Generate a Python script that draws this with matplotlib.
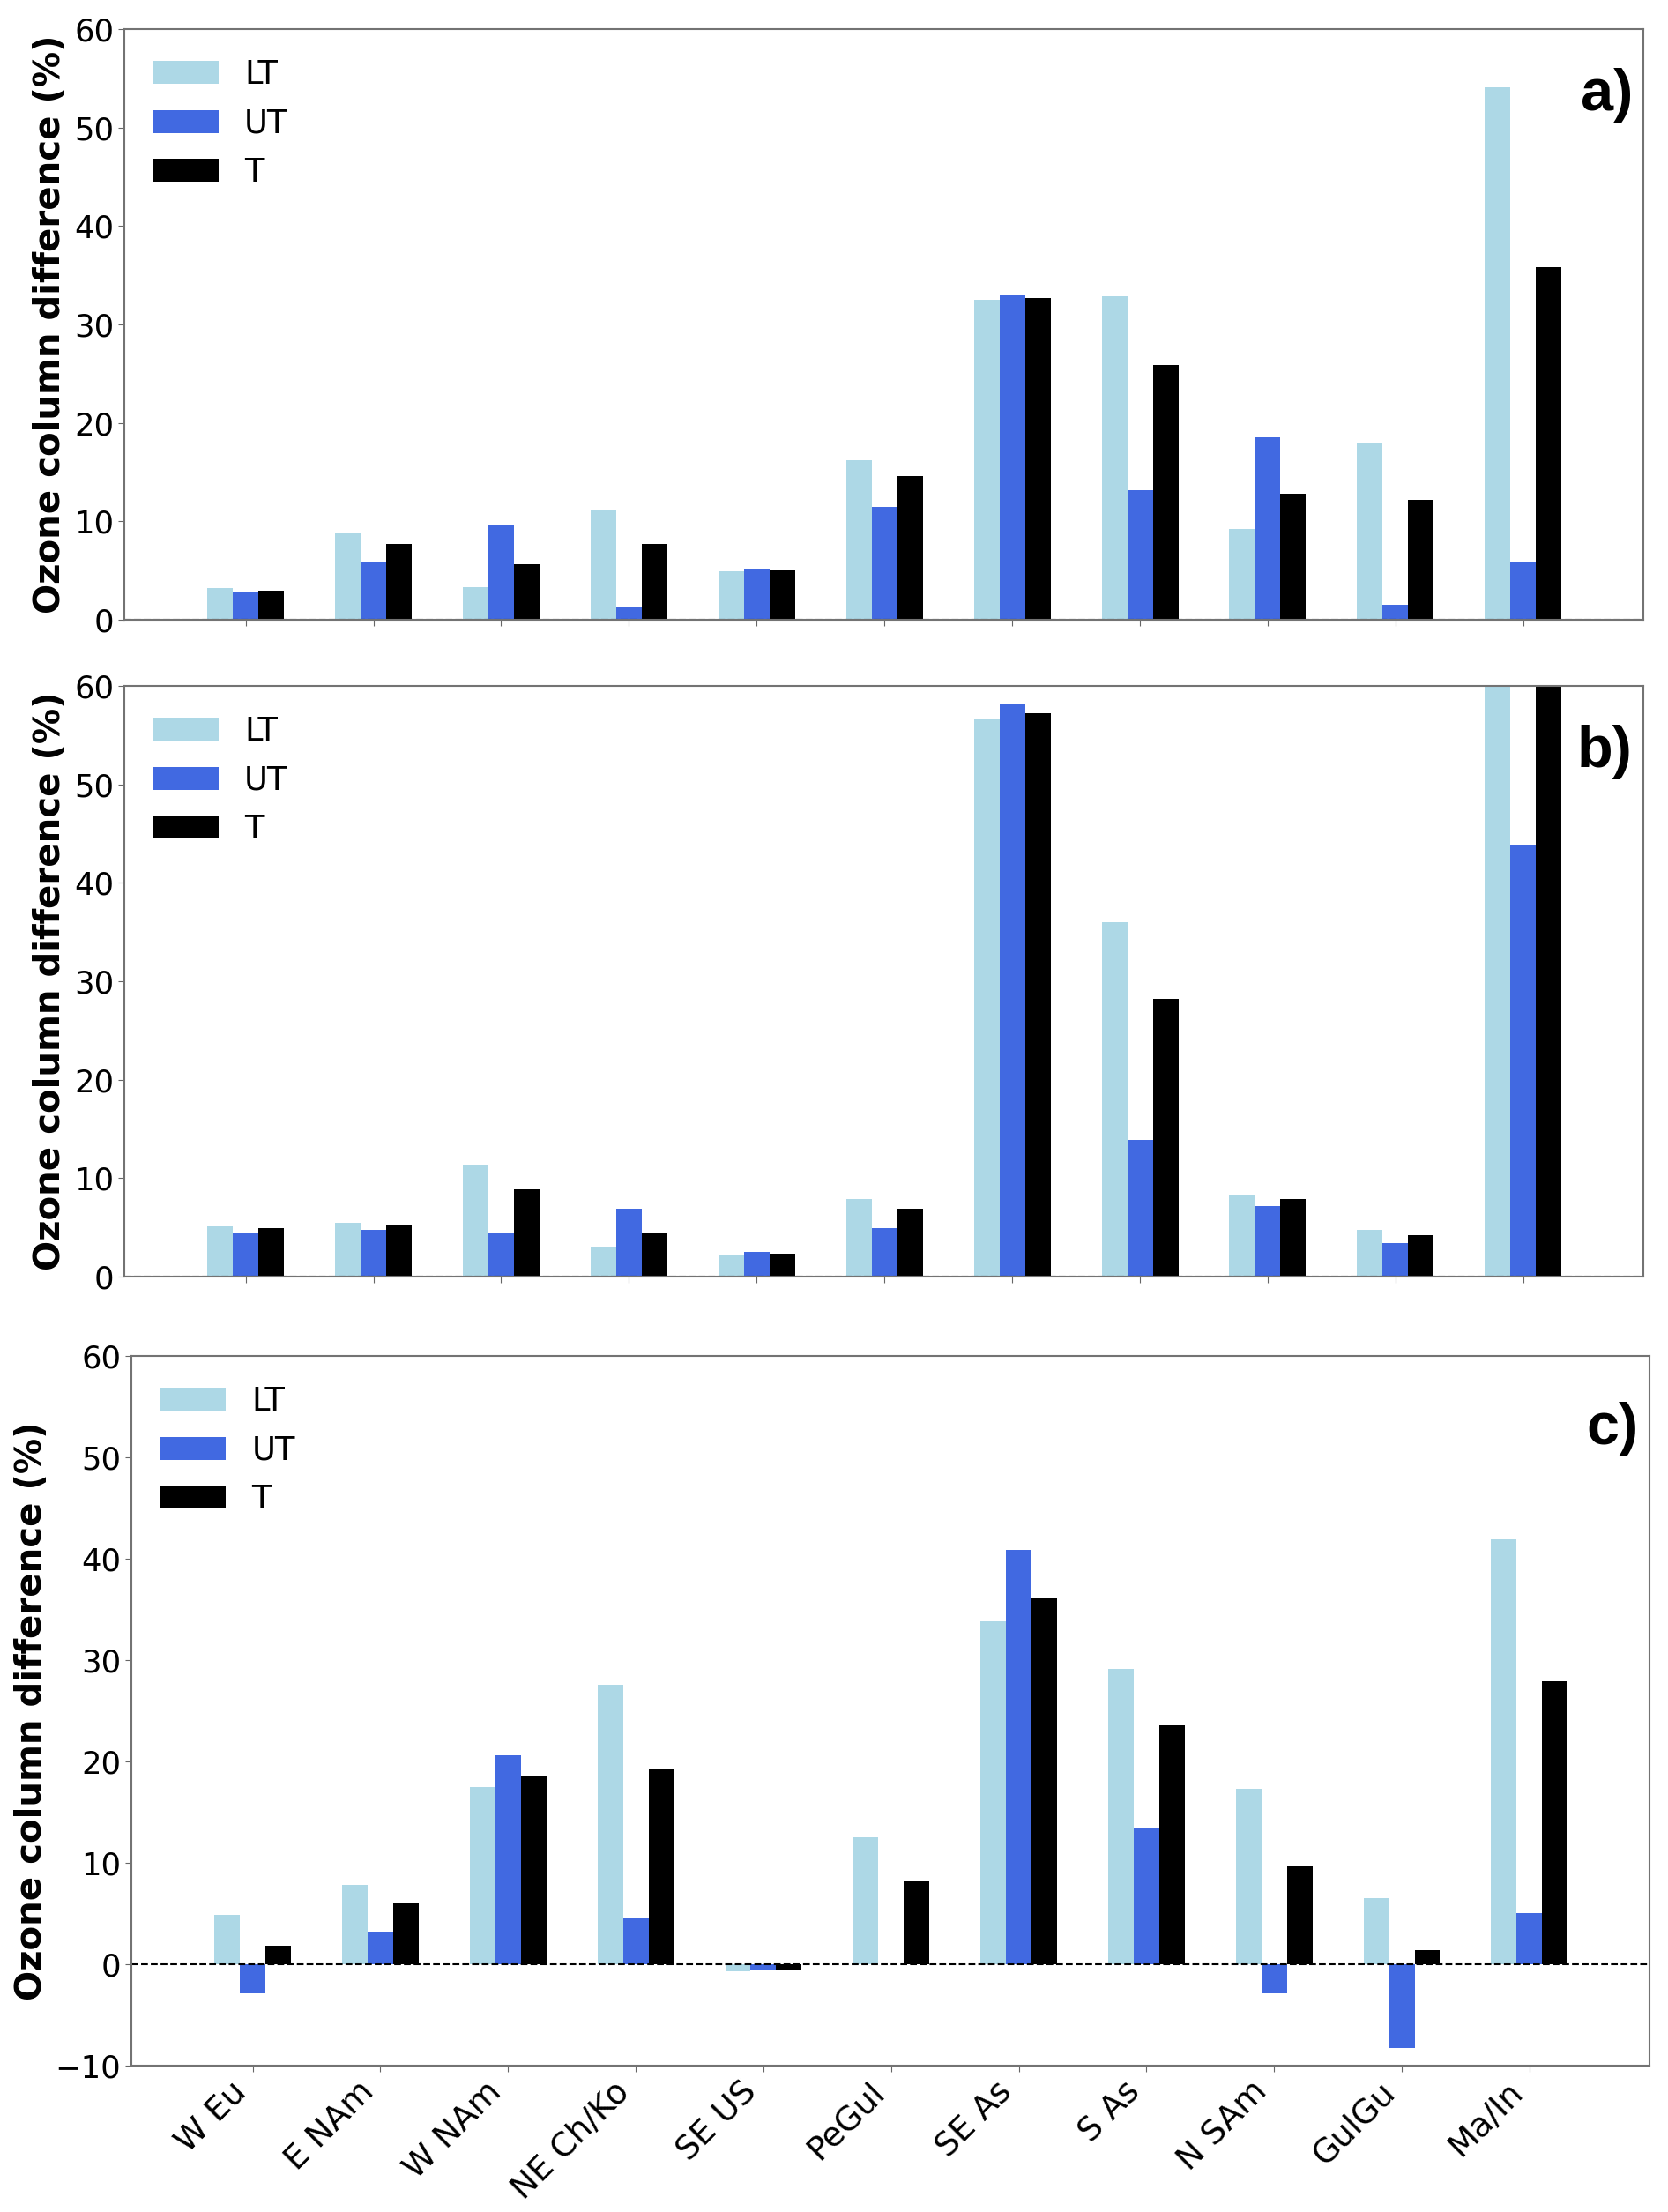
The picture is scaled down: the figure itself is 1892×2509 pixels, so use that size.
import numpy as np
import matplotlib
matplotlib.use("Agg")
import matplotlib.pyplot as plt

regions = ["W Eu", "E NAm", "W NAm", "NE Ch/Ko", "SE US", "PeGul",
           "SE As", "S As", "N SAm", "GulGu", "Ma/In"]

# panel a
lt_a = [3.2, 8.8, 3.3, 11.2, 4.9, 16.2, 32.5, 32.9, 9.2, 18.0, 54.1]
ut_a = [2.8, 5.9, 9.6, 1.3, 5.2, 11.5, 33.0, 13.2, 18.5, 1.5, 5.9]
t_a = [3.0, 7.7, 5.6, 7.7, 5.0, 14.6, 32.7, 25.9, 12.8, 12.2, 35.8]

# panel b (Ma/In LT and T go off the top of the axis)
lt_b = [5.1, 5.5, 11.4, 3.0, 2.2, 7.9, 56.7, 36.0, 8.3, 4.7, 68.0]
ut_b = [4.5, 4.7, 4.5, 6.9, 2.5, 4.9, 58.1, 13.9, 7.2, 3.4, 43.9]
t_b = [4.9, 5.2, 8.9, 4.4, 2.3, 6.9, 57.2, 28.2, 7.9, 4.2, 64.0]

# panel c
lt_c = [4.9, 7.8, 17.5, 27.6, -0.7, 12.5, 33.8, 29.1, 17.3, 6.5, 41.9]
ut_c = [-2.9, 3.2, 20.6, 4.5, -0.55, 0.0, 40.9, 13.4, -2.9, -8.3, 5.0]
t_c = [1.8, 6.1, 18.6, 19.2, -0.6, 8.2, 36.2, 23.6, 9.7, 1.4, 27.9]

series_names = ["LT", "UT", "T"]
colors = ["lightblue", "royalblue", "black"]

fig = plt.figure(figsize=(18.92, 25.09), dpi=100)
ax_a = fig.add_axes([0.0745, 0.7198, 0.9107, 0.2670])
ax_b = fig.add_axes([0.0745, 0.4229, 0.9107, 0.2670])
ax_c = fig.add_axes([0.0788, 0.0662, 0.9101, 0.3208])

x = np.arange(len(regions))
w = 0.2


def panel(ax, lt, ut, t, letter, ylim, yticks, show_labels):
    for k, (vals, name, col) in enumerate(zip([lt, ut, t], series_names, colors)):
        ax.bar(x + (k - 1) * w, vals, w, color=col, label=name)
    ax.axhline(0, color="black", ls="--", lw=1.5)
    ax.set_xlim(-0.95, 10.94)
    ax.set_ylim(*ylim)
    ax.set_yticks(yticks)
    ax.set_xticks(x)
    if show_labels:
        ax.set_xticklabels(regions, rotation=45, ha="right", fontsize=27)
    else:
        ax.set_xticklabels([])
    ax.tick_params(axis="y", labelsize=25.5)
    ax.tick_params(axis="both", color="0.4", length=5)
    for s in ax.spines.values():
        s.set_color("0.45")
        s.set_linewidth(1.5)
    ax.set_ylabel("Ozone column difference (%)", fontsize=29, fontweight="bold",
                  labelpad=5)
    ax.legend(loc="upper left", frameon=False, fontsize=26.5)
    ax.text(0.993, 0.935, letter, transform=ax.transAxes, ha="right", va="top",
            fontsize=48, fontweight="bold", family="Liberation Sans")


panel(ax_a, lt_a, ut_a, t_a, "a)", (0, 60), range(0, 61, 10), False)
panel(ax_b, lt_b, ut_b, t_b, "b)", (0, 60), range(0, 61, 10), False)
panel(ax_c, lt_c, ut_c, t_c, "c)", (-10, 60), range(-10, 61, 10), True)

fig.savefig("out.png", dpi=100)
